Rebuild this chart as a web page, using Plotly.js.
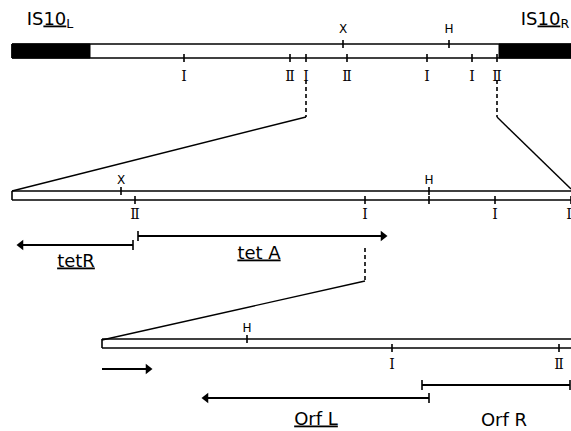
<!DOCTYPE html>
<html><head><meta charset="utf-8">
<script src="https://cdn.plot.ly/plotly-3.0.1.min.js"></script>
<style>html,body{margin:0;padding:0;background:#fff}#chart{width:571px;height:431px}</style>
</head><body><div id="chart"></div>
<script>
// ---- Row 1 : IS10 transposon (Tn10) ----
const row1Span = [12, 571];
const row1Lines = [44, 58];           // top / bottom line of the bar
const is10LBlock = [12, 90];
const is10RBlock = [499, 571];
const row1TopSiteX = [343, 449];
const row1TopSiteLab = ['X', 'H'];
const row1BotSiteX = [184, 290, 306, 347, 427, 472, 497];
const row1BotSiteLab = ['I', 'Ⅱ', 'I', 'Ⅱ', 'I', 'I', 'Ⅱ'];
const is10Labels = ['IS<u>10</u><sub>L</sub>', 'IS<u>10</u><sub>R</sub>'];
const is10LabelX = [50, 545];
const is10LabelY = [20, 20];

// ---- Row 2 : expanded tet region ----
const row2Span = [12, 571];
const row2Lines = [191, 200];
const row2TopSiteX = [121, 429];
const row2TopSiteLab = ['X', 'H'];
const row2BotTickX = [135, 365, 429, 495, 571];
const row2BotSiteX = [135, 365, 495, 571];
const row2BotSiteLab = ['Ⅱ', 'I', 'I', 'Ⅱ'];
const zoom1From = [[306, 80], [497, 80]];   // dashed drop points
const zoom1Knee = [[306, 117], [497, 117]];
const zoom1To = [[12, 191], [571, 189]];
// genes row 2
const geneNames2 = ['<u>tetR</u>', '<u>tet A</u>'];
const geneStart2 = [133, 138];
const geneEnd2 = [21, 383];
const geneY2 = [245, 236];
const geneLabX2 = [76, 259];
const geneLabY2 = [262, 254];

// ---- Row 3 : expanded tetA/orf region ----
const row3Span = [102, 571];
const row3Lines = [339, 348];
const row3TopSiteX = [247];
const row3TopSiteLab = ['H'];
const row3BotSiteX = [392, 559];
const row3BotSiteLab = ['I', 'Ⅱ'];
const zoom2From = [365, 248];
const zoom2Knee = [365, 281];
const zoom2To = [102, 340];
const geneNames3 = ['<u>Orf L</u>', 'Orf R'];
const geneStart3 = [102, 429, 422];
const geneEnd3 = [148, 206, 570];
const geneY3 = [369, 398, 385];
const geneArrow3 = [true, true, false];
const geneLabX3 = [316, 504];
const geneLabY3 = [420, 421];

// ---------- build traces ----------
const traces = [];
const blk = '#000';
function seg(xs, ys, w, dash) {
  traces.push({type:'scatter', mode:'lines', x:xs, y:ys, hoverinfo:'skip',
    line:{color:blk, width:w, dash:dash||'solid'}, showlegend:false});
}
function fillRect(x0, x1, y0, y1) {
  traces.push({type:'scatter', mode:'lines', x:[x0,x1,x1,x0,x0], y:[y0,y0,y1,y1,y0],
    fill:'toself', fillcolor:blk, line:{color:blk, width:1}, hoverinfo:'skip', showlegend:false});
}
function texts(xs, ys, labs, size, family) {
  traces.push({type:'scatter', mode:'text', x:xs, y:ys, text:labs, hoverinfo:'skip',
    textposition:'middle center', cliponaxis:false,
    textfont:{size:size, family:family, color:blk}, showlegend:false});
}
function bar(span, lines, closedLeft) {
  seg([span[0], span[1]], [lines[0], lines[0]], 1.6);
  seg([span[0], span[1]], [lines[1], lines[1]], 1.6);
  if (closedLeft) seg([span[0], span[0]], [lines[0], lines[1]], 1.6);
}
function ticks(xs, yc, half) {
  const X = [], Y = [];
  xs.forEach(x => { X.push(x, x, null); Y.push(yc-half, yc+half, null); });
  seg(X, Y, 1.6);
}
function arrow(x0, x1, y, head, startTick) {
  seg([x0, x1], [y, y], 1.8);
  if (head) traces.push({type:'scatter', mode:'markers', x:[x1], y:[y], hoverinfo:'skip',
     marker:{symbol: x1 > x0 ? 'triangle-right' : 'triangle-left', size:9, color:blk}, showlegend:false, cliponaxis:false});
  if (startTick) ticks([x0], y, 5);
  if (!head) ticks([x1], y, 5);
}

// Row 1
fillRect(is10LBlock[0], is10LBlock[1], row1Lines[0], row1Lines[1]);
fillRect(is10RBlock[0], is10RBlock[1], row1Lines[0], row1Lines[1]);
bar(row1Span, row1Lines, true);
ticks(row1TopSiteX, row1Lines[0], 4);
ticks(row1BotSiteX, row1Lines[1], 4);
texts(row1TopSiteX, row1TopSiteX.map(()=>30), row1TopSiteLab, 12, 'DejaVu Sans');
texts(row1BotSiteX, row1BotSiteX.map(()=>77), row1BotSiteLab, 14, 'DejaVu Serif');
texts(is10LabelX, is10LabelY, is10Labels, 18, 'DejaVu Sans');

// zoom lines row1 -> row2
zoom1From.forEach((p, i) => {
  seg([p[0], zoom1Knee[i][0]], [p[1], zoom1Knee[i][1]], 1.6, '4px,3px');
  seg([zoom1Knee[i][0], zoom1To[i][0]], [zoom1Knee[i][1], zoom1To[i][1]], 1.4);
});

// Row 2
bar(row2Span, row2Lines, true);
ticks(row2TopSiteX, row2Lines[0], 4);
ticks(row2BotTickX, row2Lines[1], 4);
texts(row2TopSiteX, row2TopSiteX.map(()=>181), row2TopSiteLab, 12, 'DejaVu Sans');
texts(row2BotSiteX, row2BotSiteX.map(()=>215), row2BotSiteLab, 14, 'DejaVu Serif');
geneStart2.forEach((s, i) => arrow(s, geneEnd2[i], geneY2[i], true, true));
texts(geneLabX2, geneLabY2, geneNames2, 18, 'DejaVu Sans');

// zoom lines row2 -> row3
seg([zoom2From[0], zoom2Knee[0]], [zoom2From[1], zoom2Knee[1]], 1.6, '4px,3px');
seg([zoom2Knee[0], zoom2To[0]], [zoom2Knee[1], zoom2To[1]], 1.4);

// Row 3
bar(row3Span, row3Lines, true);
ticks(row3TopSiteX, row3Lines[0], 4);
ticks(row3BotSiteX, row3Lines[1], 4);
texts(row3TopSiteX, row3TopSiteX.map(()=>329), row3TopSiteLab, 12, 'DejaVu Sans');
texts(row3BotSiteX, row3BotSiteX.map(()=>365), row3BotSiteLab, 14, 'DejaVu Serif');
geneStart3.forEach((s, i) => arrow(s, geneEnd3[i], geneY3[i], geneArrow3[i], i > 0));
texts(geneLabX3, geneLabY3, geneNames3, 18, 'DejaVu Sans');

const layout = {
  width:571, height:431, margin:{l:0, r:0, t:0, b:0},
  paper_bgcolor:'#fff', plot_bgcolor:'#fff', showlegend:false,
  xaxis:{range:[0,571], visible:false, fixedrange:true},
  yaxis:{range:[431,0], visible:false, fixedrange:true},
  hovermode:false
};
Plotly.newPlot('chart', traces, layout, {staticPlot:true, displayModeBar:false});
</script></body></html>
